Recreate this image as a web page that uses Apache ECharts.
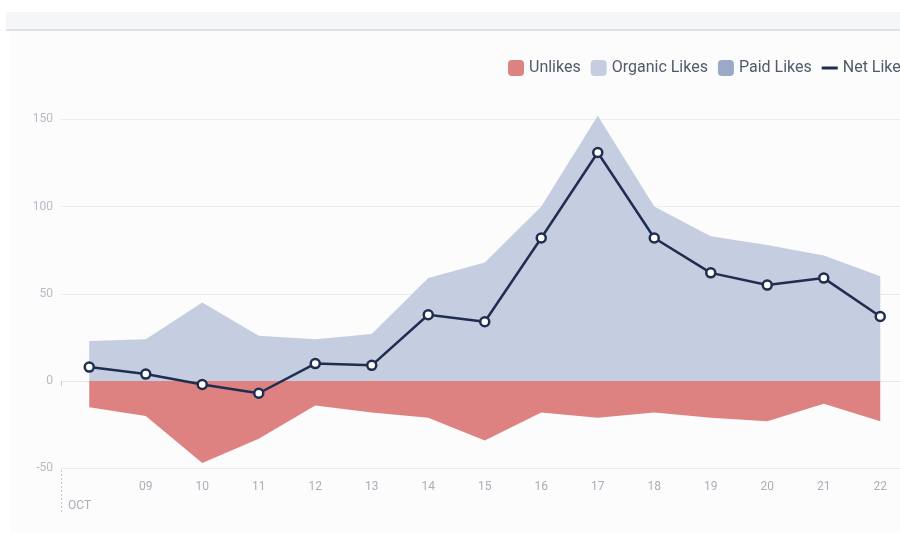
<!DOCTYPE html>
<html>
<head>
<meta charset="utf-8">
<script src="https://cdn.jsdelivr.net/npm/echarts@6/dist/echarts.min.js"></script>
<style>
html,body{margin:0;padding:0;background:#ffffff;}
#chart{width:900px;height:533px;}
</style>
</head>
<body>
<div id="chart"></div>
<script>
const days = ['08','09','10','11','12','13','14','15','16','17','18','19','20','21','22'];
const monthLabel = 'OCT';
const organicLikes = [23, 24, 45, 26, 24, 27, 59, 68, 100, 152, 100, 83, 78, 72, 60];
const paidLikes = [0, 0, 0, 0, 0, 0, 0, 0, 0, 0, 0, 0, 0, 0, 0];
const unlikes = [-15, -20, -47, -33, -14, -18, -21, -34, -18, -21, -18, -21, -23, -13, -23];
const netLikes = [8, 4, -2, -7, 10, 9, 38, 34, 82, 131, 82, 62, 55, 59, 37];
const yTicks = { min: -50, max: 150, interval: 50 };

const C_UNLIKE = '#de8281';
const C_ORGANIC = 'rgba(187,198,219,0.86)';
const C_ORGANIC_ICON = '#c5cee0';
const C_PAID = '#9ba9c9';
const C_NET = '#1f2d50';
const FONT = 'Roboto';

const chart = echarts.init(document.getElementById('chart'), null, {renderer: 'canvas'});
const lineIcon = 'path://M0,6.5h16v3h-16z M0,0h0.01v0.01h-0.01z M15.99,15.99h0.01v0.01h-0.01z';

chart.setOption({
  backgroundColor: '#ffffff',
  animation: false,
  graphic: [
    { type: 'rect', z: -10, silent: true, shape: { x: 9, y: 12, width: 900, height: 530 }, style: { fill: '#fcfcfc' } },
    { type: 'rect', z: -9, silent: true, shape: { x: 6, y: 12, width: 900, height: 17 }, style: { fill: '#f5f6f8' } },
    { type: 'rect', z: -9, silent: true, shape: { x: 6, y: 29, width: 900, height: 2 }, style: { fill: '#dfe1e5' } },
    { type: 'line', silent: true, shape: { x1: 61.5, y1: 470, x2: 61.5, y2: 514 }, style: { stroke: '#c3c7cf', lineWidth: 1, lineDash: [2, 2] } },
    { type: 'text', silent: true, left: 68, top: 500, style: { text: monthLabel, fill: '#a9aeb9', font: '12px ' + FONT } }
  ],
  legend: {
    left: 508, top: 60, width: 700, orient: 'horizontal', padding: 0,
    itemWidth: 16, itemHeight: 16, itemGap: 10,
    textStyle: { fontFamily: FONT, fontSize: 16, color: '#525a6a', padding: [0, 0, 0, 0] },
    data: [
      { name: 'Unlikes', icon: 'roundRect', itemStyle: { color: C_UNLIKE } },
      { name: 'Organic Likes', icon: 'roundRect', itemStyle: { color: C_ORGANIC_ICON } },
      { name: 'Paid Likes', icon: 'roundRect', itemStyle: { color: C_PAID } },
      { name: 'Net Likes', icon: lineIcon, itemStyle: { color: C_NET, borderWidth: 0 } }
    ]
  },
  grid: { left: 61, width: 847.5, top: 119.3, bottom: 64.7, containLabel: false, outerBoundsMode: 'none' },
  xAxis: {
    type: 'category', data: days, boundaryGap: true,
    axisLine: { show: true, lineStyle: { color: '#e6e7ea', width: 1 } },
    axisTick: { show: true, length: 5, lineStyle: { color: '#c8ccd3' } },
    axisLabel: {
      interval: 0, margin: 13, color: '#a9aeb9', fontFamily: FONT, fontSize: 12,
      formatter: function (v, i) { return i === 0 ? '' : v; }
    },
    splitLine: { show: false }
  },
  yAxis: {
    type: 'value', min: yTicks.min, max: yTicks.max, interval: yTicks.interval,
    axisLine: { show: false }, axisTick: { show: false },
    axisLabel: { color: '#b6bac4', fontFamily: FONT, fontSize: 12, margin: 8 },
    splitLine: { lineStyle: { color: '#ececee', width: 1 } }
  },
  series: [
    {
      name: 'Unlikes', type: 'line', data: unlikes, symbol: 'none',
      lineStyle: { width: 0 }, itemStyle: { color: C_UNLIKE },
      areaStyle: { color: C_UNLIKE, opacity: 1 }, z: 2
    },
    {
      name: 'Paid Likes', type: 'line', stack: 'likes', data: paidLikes, symbol: 'none',
      lineStyle: { width: 0 }, itemStyle: { color: C_PAID },
      areaStyle: { color: C_PAID, opacity: 1 }, z: 2
    },
    {
      name: 'Organic Likes', type: 'line', stack: 'likes', data: organicLikes, symbol: 'none', clip: false,
      lineStyle: { width: 0 }, itemStyle: { color: C_ORGANIC_ICON },
      areaStyle: { color: C_ORGANIC, opacity: 1 }, z: 2
    },
    {
      name: 'Net Likes', type: 'line', data: netLikes, clip: false,
      symbol: 'circle', symbolSize: 9, showAllSymbol: true,
      lineStyle: { color: C_NET, width: 2.5 },
      itemStyle: { color: '#ffffff', borderColor: C_NET, borderWidth: 2.5 },
      z: 5
    }
  ]
});
</script>
</body>
</html>
